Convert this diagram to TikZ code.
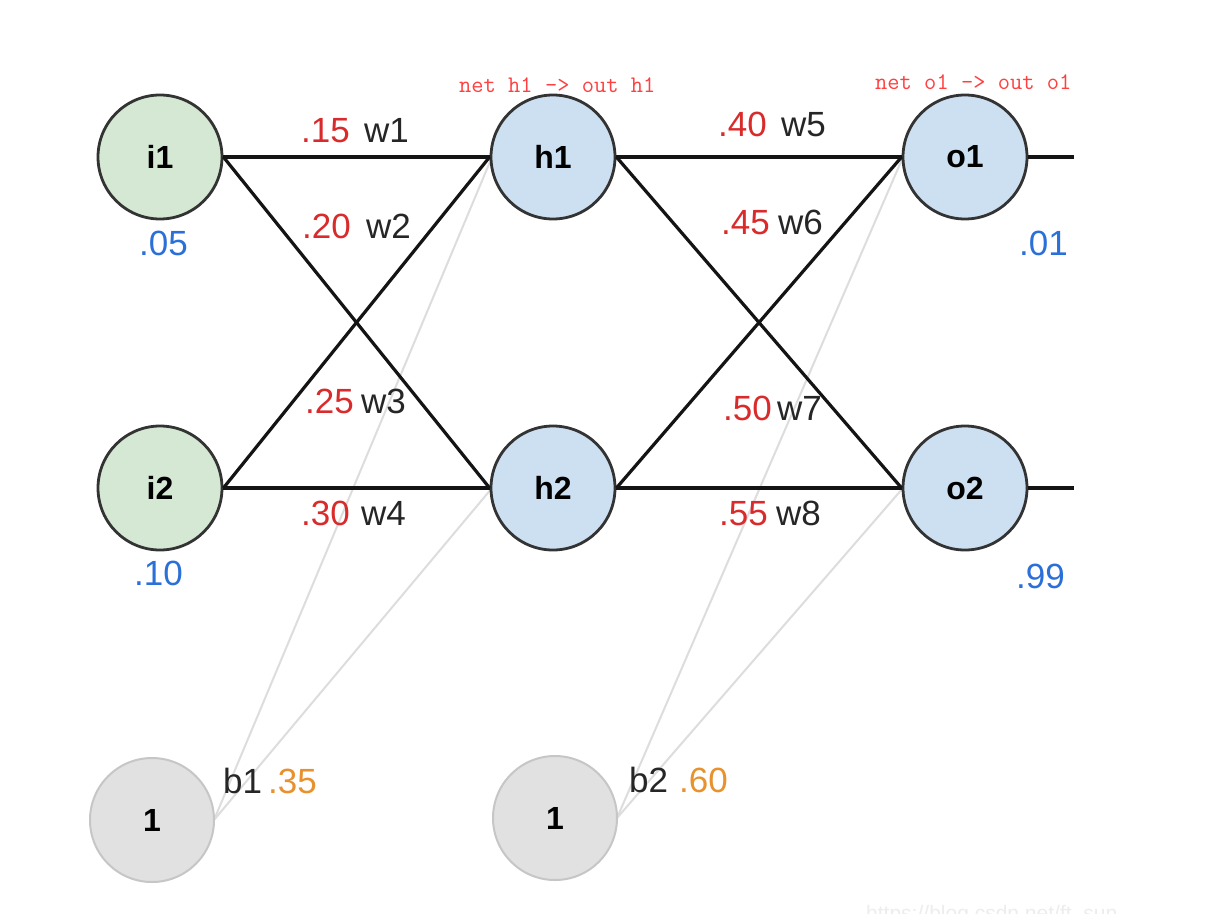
\documentclass[tikz,border=0pt]{standalone}
\usepackage{fontspec}
\setmainfont{Liberation Sans}
\definecolor{wred}{HTML}{D92B2B}
\definecolor{vblue}{HTML}{2B6FD9}
\definecolor{borange}{HTML}{E8922E}
\definecolor{tred}{HTML}{FF4040}
\definecolor{ingreen}{HTML}{D5E8D4}
\definecolor{hidblue}{HTML}{CCE0F1}
\definecolor{biasgray}{HTML}{E1E1E1}
\definecolor{biasedge}{HTML}{C6C6C6}
\definecolor{biasline}{HTML}{DDDDDD}
\definecolor{edge}{HTML}{333333}
\begin{document}
\begin{tikzpicture}[x=1pt,y=-1pt,
  neuron/.style={circle,minimum size=124pt,inner sep=0pt,draw=edge,line width=2.8pt,
     font=\fontsize{32}{36}\selectfont\bfseries},
  inp/.style={neuron,fill=ingreen},
  hid/.style={neuron,fill=hidblue},
  biasn/.style={circle,minimum size=124pt,inner sep=0pt,draw=biasedge,line width=2pt,fill=biasgray,
     font=\fontsize{32}{36}\selectfont\bfseries},
  conn/.style={line width=3.2pt,draw=black!92},
  bconn/.style={line width=2pt,draw=biasline},
  wval/.style={anchor=base west,inner sep=0pt,text=wred,font=\fontsize{35}{40}\selectfont},
  wname/.style={anchor=base west,inner sep=0pt,text=black!85,font=\fontsize{35}{40}\selectfont},
  ival/.style={anchor=base west,inner sep=0pt,text=vblue,font=\fontsize{35}{40}\selectfont},
  bval/.style={anchor=base west,inner sep=0pt,text=borange,font=\fontsize{35}{40}\selectfont},
  toptext/.style={anchor=base west,inner sep=0pt,text=tred,font=\ttfamily\fontsize{23.8}{27}\selectfont}
]
\useasboundingbox (0,0) rectangle (1214,921);
\fill[white] (0,0) rectangle (1214,921);

% bias connectors (drawn first, below)
\coordinate (b1e) at (214,820);
\coordinate (b2e) at (617,818);
\coordinate (h1w) at (492,157);
\coordinate (h2w) at (492,488);
\coordinate (o1w) at (903,157);
\coordinate (o2w) at (903,488);
\draw[bconn] (b1e) -- (h1w);
\draw[bconn] (b1e) -- (h2w);
\draw[bconn] (b2e) -- (o1w);
\draw[bconn] (b2e) -- (o2w);

% nodes
\node[inp] (i1) at (160,157) {i1};
\node[inp] (i2) at (160,488) {i2};
\node[hid] (h1) at (553,157) {h1};
\node[hid] (h2) at (553,488) {h2};
\node[hid] (o1) at (965,157) {o1};
\node[hid] (o2) at (965,488) {o2};
\node[biasn] (b1) at (152,820) {1};
\node[biasn] (b2) at (555,818) {1};

% connectors
\draw[conn] (i1.east) -- (h1.west);
\draw[conn] (i1.east) -- (h2.west);
\draw[conn] (i2.east) -- (h1.west);
\draw[conn] (i2.east) -- (h2.west);
\draw[conn] (h1.east) -- (o1.west);
\draw[conn] (h1.east) -- (o2.west);
\draw[conn] (h2.east) -- (o1.west);
\draw[conn] (h2.east) -- (o2.west);
\coordinate (out1) at (1074,157);
\coordinate (out2) at (1074,488);
\draw[conn] (o1.east) -- (out1);
\draw[conn] (o2.east) -- (out2);

% weight labels
\node[wval] (l15) at (301,142) {.15};  \node[wname] (n1) at (364,142) {w1};
\node[wval] (l20) at (302,238) {.20};  \node[wname] (n2) at (366,238) {w2};
\node[wval] (l25) at (305,413) {.25};  \node[wname] (n3) at (361,413) {w3};
\node[wval] (l30) at (301,525) {.30};  \node[wname] (n4) at (361,525) {w4};
\node[wval] (l40) at (718,136) {.40};  \node[wname] (n5) at (781,136) {w5};
\node[wval] (l45) at (721,234) {.45};  \node[wname] (n6) at (778,234) {w6};
\node[wval] (l50) at (723,420) {.50};  \node[wname] (n7) at (777,420) {w7};
\node[wval] (l55) at (719,525) {.55};  \node[wname] (n8) at (776,525) {w8};

% input / target values
\node[ival] (v05) at (139,255) {.05};
\node[ival] (v10) at (134,585) {.10};
\node[ival] (v01) at (1019,255) {.01};
\node[ival] (v99) at (1016,588) {.99};

% bias labels
\node[wname] (nb1) at (223,793) {b1};
\node[bval] (vb1) at (268,793) {.35};
\node[wname] (nb2) at (629,792) {b2};
\node[bval] (vb2) at (679,792) {.60};

% top annotations
\node[toptext] (th) at (459,92) {net h1 -> out h1};
\node[toptext] (to) at (875,89) {net o1 -> out o1};

% faint watermark, cut by the bottom edge as in the reference
\begin{scope}
\clip (0,0) rectangle (1214,913);
\node[anchor=base west,inner sep=0pt,text=black!7,font=\fontsize{21}{24}\selectfont] (wm) at (866,920) {https://blog.csdn.net/ft\_sun};
\end{scope}
\end{tikzpicture}
\end{document}
